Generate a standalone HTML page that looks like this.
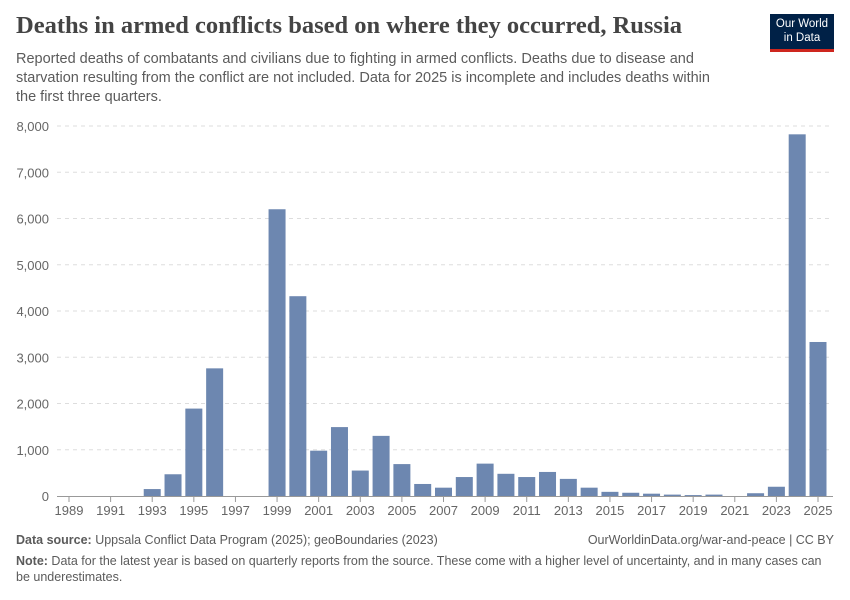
<!DOCTYPE html>
<html><head><meta charset="utf-8"><style>
body{margin:0;width:850px;height:600px;background:#fff;font-family:"Liberation Sans",sans-serif;overflow:hidden;position:relative}
.t{position:absolute;margin:0}
</style></head><body>
<h1 class="t" style="left:16px;top:12px;font-family:'Liberation Serif',serif;font-size:24.5px;font-weight:bold;color:#444">Deaths in armed conflicts based on where they occurred, Russia</h1>
<p class="t" style="left:16px;top:50px;width:705px;font-size:14.5px;line-height:19px;color:#5b5b5b">Reported deaths of combatants and civilians due to fighting in armed conflicts. Deaths due to disease and starvation resulting from the conflict are not included. Data for 2025 is incomplete and includes deaths within the first three quarters.</p>
<div style="position:absolute;left:770px;top:14px;width:64px;height:38px;background:#002147;border-bottom:3px solid #ce261e;color:#fff;font-size:11.5px;line-height:14px;text-align:center;padding-top:3px;box-sizing:border-box">Our World<br>in Data</div>
<svg id="c" width="850" height="600" style="position:absolute;left:0;top:0"></svg>
<p class="t" style="left:16px;top:533px;font-size:12.5px;color:#5b5b5b"><b>Data source:</b> Uppsala Conflict Data Program (2025); geoBoundaries (2023)</p>
<p class="t" style="right:16px;top:533px;font-size:12.5px;color:#5b5b5b">OurWorldinData.org/war-and-peace | CC BY</p>
<p class="t" style="left:16px;top:553px;width:810px;font-size:12.5px;line-height:16px;color:#5b5b5b"><b>Note:</b> Data for the latest year is based on quarterly reports from the source. These come with a higher level of uncertainty, and in many cases can be underestimates.</p>
<script>
const years=[1989,1990,1991,1992,1993,1994,1995,1996,1997,1998,1999,2000,2001,2002,2003,2004,2005,2006,2007,2008,2009,2010,2011,2012,2013,2014,2015,2016,2017,2018,2019,2020,2021,2022,2023,2024,2025];
const deaths=[0,0,0,0,150,470,1890,2760,0,0,6200,4320,980,1490,550,1300,690,260,180,410,700,480,410,520,370,180,90,70,50,30,20,30,0,60,200,7820,3330];
const yTicks=[0,1000,2000,3000,4000,5000,6000,7000,8000];
const xTickYears=[1989,1991,1993,1995,1997,1999,2001,2003,2005,2007,2009,2011,2013,2015,2017,2019,2021,2023,2025];
const svg=document.getElementById('c');const NS='http://www.w3.org/2000/svg';
const y=v=>496-v*370/8000;const x=yr=>69+(yr-1989)*(818-69)/36;
function mk(t,a){const e=document.createElementNS(NS,t);for(const k in a)e.setAttribute(k,a[k]);svg.appendChild(e);return e;}
yTicks.forEach(v=>{
 if(v>0){const g=mk('line',{x1:57,x2:833,y1:y(v),y2:y(v),stroke:'#ddd','stroke-dasharray':'4,4'});
 }
 const t=mk('text',{x:49,y:y(v)+5,'text-anchor':'end','font-size':13,fill:'#666','font-family':'Liberation Sans'});t.textContent=v.toLocaleString('en-US');
 
});
years.forEach((yr,i)=>{
 const r=mk('rect',{x:x(yr)-8.5,y:y(deaths[i]),width:17,height:496-y(deaths[i]),fill:'#6d87b0'});
 
});
const ax=mk('line',{x1:57,x2:833,y1:496.5,y2:496.5,stroke:'#999'});

xTickYears.forEach(yr=>{
 const tk=mk('line',{x1:x(yr),x2:x(yr),y1:497,y2:502,stroke:'#999'});
 
 const t=mk('text',{x:x(yr),y:515,'text-anchor':'middle','font-size':13,fill:'#666','font-family':'Liberation Sans'});t.textContent=yr;
 
});
</script>
</body></html>
